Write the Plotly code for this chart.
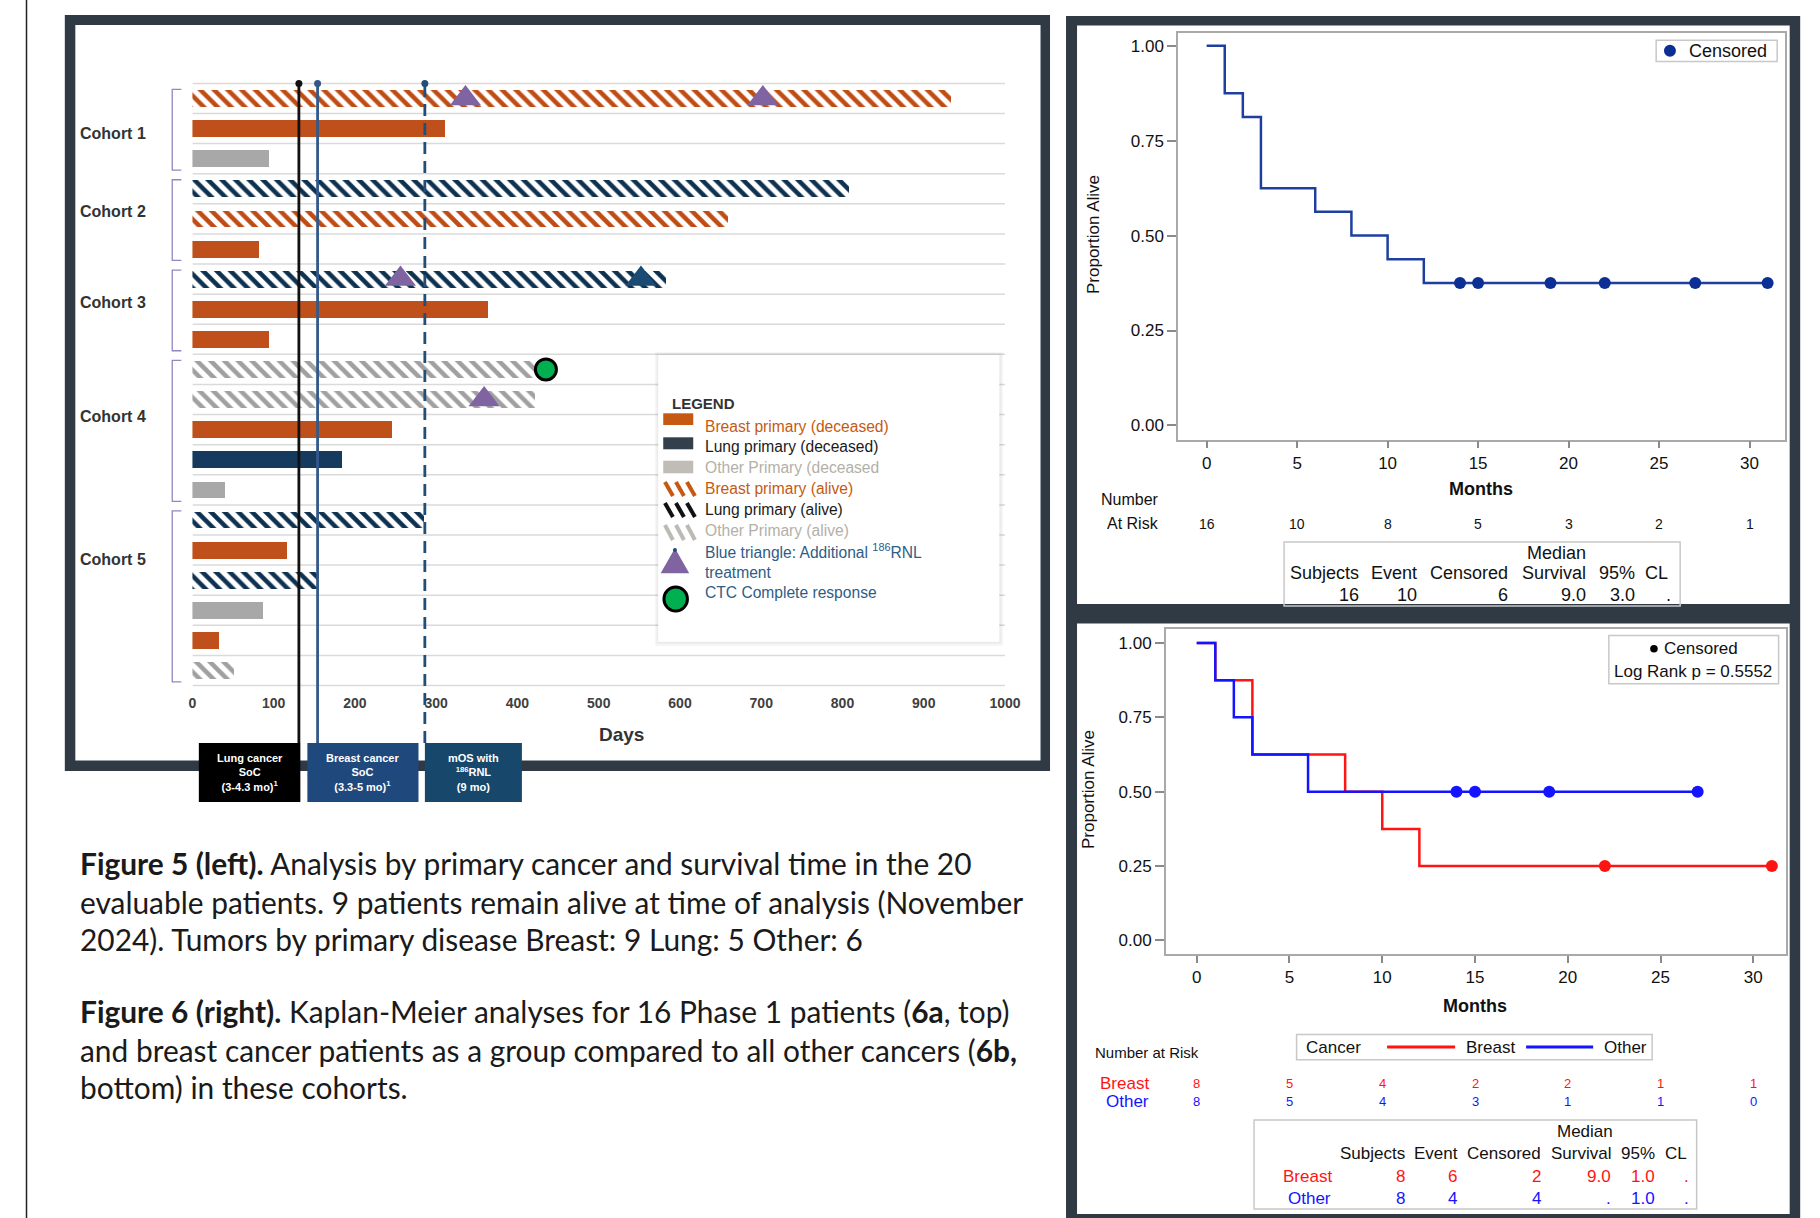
import plotly.graph_objects as go

W, H = 1820, 1218
SX, OX = 0.9888, 4.2   # compensation for the horizontal rendering transform observed
def X(px): return ((px - OX) / SX) / W
def Y(py): return 1 - py / H

SANS = "Liberation Sans, Arial, sans-serif"
CAP = "Lato, Calibri, sans-serif"

# ---------------- Figure 5 data ----------------
cohort_labels = ["Cohort 1", "Cohort 2", "Cohort 3", "Cohort 4", "Cohort 5"]
row_cohort = [1, 1, 1, 2, 2, 2, 3, 3, 3, 4, 4, 4, 4, 4, 5, 5, 5, 5, 5, 5]
row_primary = ["Breast", "Breast", "Other", "Lung", "Breast", "Breast", "Lung", "Breast", "Breast",
               "Other", "Other", "Breast", "Lung", "Other", "Lung", "Breast", "Lung", "Other", "Breast", "Other"]
row_status = ["alive", "deceased", "deceased", "alive", "alive", "deceased", "alive", "deceased", "deceased",
              "alive", "alive", "deceased", "deceased", "deceased", "alive", "deceased", "alive", "deceased",
              "deceased", "alive"]
row_days = [934, 311, 95, 808, 660, 82, 583, 364, 95, 423, 422, 246, 185, 40, 285, 117, 154, 87, 33, 52]
rnl_rows = [0, 0, 6, 10]
rnl_days = [336, 702, 256, 359]
rnl2_rows = [6]
rnl2_days = [552]
ctc_rows = [9]
ctc_days = [435]
ref_days = [131, 154, 286]
ref_box_text = ["Lung cancer<br>SoC<br>(3-4.3 mo)<sup>1</sup>",
                "Breast cancer<br>SoC<br>(3.3-5 mo)<sup>1</sup>",
                "mOS with<br><sup>186</sup>RNL<br>(9 mo)"]
day_ticks = [0, 100, 200, 300, 400, 500, 600, 700, 800, 900, 1000]

# ---------------- Figure 6a data ----------------
month_ticks = [0, 5, 10, 15, 20, 25, 30]
km_a_time = [0, 1, 2, 3, 6, 8, 10, 12, 31]
km_a_surv = [1.0, 0.875, 0.8125, 0.625, 0.5625, 0.5, 0.4375, 0.375, 0.375]
km_a_cens_time = [14, 15, 19, 22, 27, 31]
km_a_cens_surv = [0.375, 0.375, 0.375, 0.375, 0.375, 0.375]
km_a_risk = [16, 10, 8, 5, 3, 2, 1]
stat_headers = ["Subjects", "Event", "Censored", "Survival", "95%", "CL"]
km_a_stats = ["16", "10", "6", "9.0", "3.0", "."]

# ---------------- Figure 6b data ----------------
km_b_breast_time = [0, 1, 3, 8, 10, 12, 31]
km_b_breast_surv = [1.0, 0.875, 0.625, 0.5, 0.375, 0.25, 0.25]
km_b_breast_cens_time = [22, 31]
km_b_breast_cens_surv = [0.25, 0.25]
km_b_other_time = [0, 1, 2, 3, 6, 27]
km_b_other_surv = [1.0, 0.875, 0.75, 0.625, 0.5, 0.5]
km_b_other_cens_time = [14, 15, 19, 27]
km_b_other_cens_surv = [0.5, 0.5, 0.5, 0.5]
km_b_breast_risk = [8, 5, 4, 2, 2, 1, 1]
km_b_other_risk = [8, 5, 4, 3, 1, 1, 0]
km_b_breast_stats = ["8", "6", "2", "9.0", "1.0", "."]
km_b_other_stats = ["8", "4", "4", ".", "1.0", "."]

ORANGE = "#c0501b"
NAVY = "#163a5e"
GRAY = "#a8a8a8"
RED = "#ff1414"
BLUE = "#1414ff"
KMBLUE = "#1e3fa0"

fig = go.Figure()

# ---- bars ----
hatch = dict(shape="\\", bgcolor="white", size=9.7, solidity=0.47, fgopacity=1, fillmode="replace")
styles = {
    ("Breast", "deceased"): dict(color=ORANGE),
    ("Lung", "deceased"): dict(color=NAVY),
    ("Other", "deceased"): dict(color=GRAY),
    ("Breast", "alive"): dict(color="#c04c14", pattern=dict(fgcolor="#c04c14", **hatch)),
    ("Lung", "alive"): dict(color="#0e3150", pattern=dict(fgcolor="#0e3150", **hatch)),
    ("Other", "alive"): dict(color="#a0a0a0", pattern=dict(fgcolor="#a0a0a0", **hatch)),
}
for (p, s), mk in styles.items():
    idx = [i for i in range(len(row_days)) if row_primary[i] == p and row_status[i] == s]
    fig.add_trace(go.Bar(x=[row_days[i] for i in idx], y=idx, orientation="h", width=0.56,
                         marker=dict(line=dict(width=0), **mk), xaxis="x", yaxis="y",
                         showlegend=False, hoverinfo="skip"))

fig.add_trace(go.Scatter(x=rnl_days, y=rnl_rows, mode="markers", xaxis="x", yaxis="y",
                         marker=dict(symbol="triangle-up", size=27, color="#8064a2"),
                         showlegend=False, hoverinfo="skip", cliponaxis=False))
fig.add_trace(go.Scatter(x=rnl2_days, y=rnl2_rows, mode="markers", xaxis="x", yaxis="y",
                         marker=dict(symbol="triangle-up", size=27, color="#1b4a72"),
                         showlegend=False, hoverinfo="skip", cliponaxis=False))
fig.add_trace(go.Scatter(x=ctc_days, y=ctc_rows, mode="markers", xaxis="x", yaxis="y",
                         marker=dict(symbol="circle", size=21, color="#00b050", line=dict(color="black", width=3)),
                         showlegend=False, hoverinfo="skip", cliponaxis=False))
ref_colors = ["#111111", "#33598a", "#1f4e79"]
fig.add_trace(go.Scatter(x=ref_days, y=[-0.5] * 3, mode="markers", xaxis="x", yaxis="y",
                         marker=dict(size=7, color=ref_colors), showlegend=False,
                         hoverinfo="skip", cliponaxis=False))

# ---- KM 6a ----
fig.add_trace(go.Scatter(x=km_a_time, y=km_a_surv, mode="lines", line=dict(shape="hv", color=KMBLUE, width=2.5),
                         xaxis="x2", yaxis="y2", showlegend=False, hoverinfo="skip"))
fig.add_trace(go.Scatter(x=km_a_cens_time, y=km_a_cens_surv, mode="markers",
                         marker=dict(size=12, color="#0b2f94"), xaxis="x2", yaxis="y2",
                         showlegend=False, hoverinfo="skip", cliponaxis=False))
# ---- KM 6b ----
fig.add_trace(go.Scatter(x=km_b_breast_time, y=km_b_breast_surv, mode="lines",
                         line=dict(shape="hv", color=RED, width=2.5),
                         xaxis="x3", yaxis="y3", showlegend=False, hoverinfo="skip"))
fig.add_trace(go.Scatter(x=km_b_other_time, y=km_b_other_surv, mode="lines",
                         line=dict(shape="hv", color=BLUE, width=2.5),
                         xaxis="x3", yaxis="y3", showlegend=False, hoverinfo="skip"))
fig.add_trace(go.Scatter(x=km_b_breast_cens_time, y=km_b_breast_cens_surv, mode="markers",
                         marker=dict(size=12, color=RED), xaxis="x3", yaxis="y3",
                         showlegend=False, hoverinfo="skip", cliponaxis=False))
fig.add_trace(go.Scatter(x=km_b_other_cens_time, y=km_b_other_cens_surv, mode="markers",
                         marker=dict(size=12, color=BLUE), xaxis="x3", yaxis="y3",
                         showlegend=False, hoverinfo="skip", cliponaxis=False))

shapes = []
ann = []

def rect(x0, y0, x1, y1, fill=None, line=None, lw=0, layer="below"):
    shapes.append(dict(type="rect", xref="paper", yref="paper", x0=X(x0), x1=X(x1), y0=Y(y1), y1=Y(y0),
                       fillcolor=fill if fill else "rgba(0,0,0,0)",
                       line=dict(color=line if line else "rgba(0,0,0,0)", width=lw), layer=layer))

def pline(x0, y0, x1, y1, color, w, layer="below", dash=None):
    shapes.append(dict(type="line", xref="paper", yref="paper", x0=X(x0), x1=X(x1), y0=Y(y0), y1=Y(y1),
                       line=dict(color=color, width=w, dash=dash) if dash else dict(color=color, width=w),
                       layer=layer))

def txt(x, y, s, size, color="#111", anchor="left", family=SANS, xref="paper", angle=0):
    ann.append(dict(xref=xref, yref="paper", x=X(x) if xref == "paper" else x, y=Y(y), text=s,
                    showarrow=False, xanchor=anchor, yanchor="middle", textangle=angle,
                    font=dict(family=family, size=size, color=color)))

FRAME = "#2f3a45"
# left margin line
pline(26.7, 0, 26.7, H, "#222", 1.5)
# left frame
rect(65, 15, 1050, 771, fill=FRAME)
rect(75.5, 25, 1040.5, 760.5, fill="white")
# right frame
rect(1066, 16, 1800, 1218, fill=FRAME)
rect(1077, 25.5, 1789.5, 604, fill="white")
rect(1077, 623.6, 1789.5, 1214, fill="white")

# gridlines of bar chart
for i in range(len(row_days) + 1):
    shapes.append(dict(type="line", xref="x", yref="y", x0=0, x1=1000, y0=i - 0.5, y1=i - 0.5,
                       line=dict(color="#dadada", width=1.5), layer="below"))

# cohort brackets & labels
label_pos = [1.18, 3.77, 6.78, 10.57, 15.3]
for k, name in enumerate(cohort_labels):
    rows = [i for i in range(len(row_cohort)) if row_cohort[i] == k + 1]
    top, bot = min(rows) - 0.3, max(rows) + 0.38
    bx0, bx1 = X(172.4), X(181.5)
    shapes.append(dict(type="path", xref="paper", yref="y",
                       path=f"M {bx1},{top} L {bx0},{top} L {bx0},{bot} L {bx1},{bot}",
                       line=dict(color="#9486c0", width=1.3), layer="below"))
    ann.append(dict(xref="paper", yref="y", x=X(78), y=label_pos[k], text=f"<b>{name}</b>", showarrow=False,
                    xanchor="left", yanchor="middle", font=dict(family=SANS, size=16, color="#333")))

# reference lines and boxes
ref_dash = [None, None, "12px,7px"]
box_x = [(199, 300.5, "#000000"), (307.5, 418.6, "#1f497d"), (425, 522, "#17476b")]
for d, c, ds in zip(ref_days, ref_colors, ref_dash):
    ln = dict(color=c, width=2.8)
    if ds:
        ln["dash"] = ds
    shapes.append(dict(type="line", xref="x", yref="paper", x0=d, x1=d, y0=Y(743), y1=Y(83),
                       line=ln, layer="above"))
for (x0, x1, c), t in zip(box_x, ref_box_text):
    rect(x0, 743, x1, 802, fill=c, layer="above")
    ann.append(dict(xref="paper", yref="paper", x=X((x0 + x1) / 2), y=Y(772), text=f"<b>{t}</b>",
                    showarrow=False, xanchor="center", yanchor="middle",
                    font=dict(family=SANS, size=11, color="white")))

txt(622, 734, "<b>Days</b>", 19, "#333", anchor="center")

# legend of figure 5
rect(655, 352, 1003, 646, fill="rgba(0,0,0,0.035)", layer="above")
rect(656.5, 353.5, 1001.5, 644, fill="rgba(0,0,0,0.04)", layer="above")
rect(658.3, 355, 999.3, 641.7, fill="white", layer="above")
txt(670, 403.3, "<b>LEGEND</b>", 15, "#333")
solid_sw = [(413.3, 425, "#c65911"), (437.3, 449.3, "#333f4a"), (460.7, 473.3, "#bfbdb5")]
for y0, y1, c in solid_sw:
    rect(663.3, y0, 693.3, y1, fill=c, layer="above")
hatch_sw = [(482, 496, "#c65911"), (503, 517, "#111111"), (525, 540, "#bcbab2")]
for y0, y1, c in hatch_sw:
    for k in range(3):
        xs = 665 + 11 * k
        pline(xs, y0, xs + 8, y1, c, 4, layer="above")
shapes.append(dict(type="path", xref="paper", yref="paper",
                   path=f"M {X(660.7)},{Y(573.3)} L {X(689.3)},{Y(573.3)} L {X(675)},{Y(548.3)} Z",
                   fillcolor="#8064a2", line=dict(width=0), layer="above"))
shapes.append(dict(type="circle", xref="paper", yref="paper", x0=X(673), x1=X(677), y0=Y(552), y1=Y(548),
                   fillcolor="#1f4e79", line=dict(width=0), layer="above"))
shapes.append(dict(type="circle", xref="paper", yref="paper", x0=X(664), x1=X(687.5), y0=Y(611), y1=Y(587),
                   fillcolor="#00b050", line=dict(color="black", width=3), layer="above"))
leg_items = [("Breast primary (deceased)", 426, "#c55a11"),
             ("Lung primary (deceased)", 446.7, "#1a1a1a"),
             ("Other Primary (deceased", 467.7, "#b3b0a8"),
             ("Breast primary (alive)", 488.3, "#c55a11"),
             ("Lung primary (alive)", 509.3, "#1a1a1a"),
             ("Other Primary (alive)", 530.7, "#b3b0a8"),
             ("Blue triangle: Additional <sup>186</sup>RNL", 551, "#2e5d86"),
             ("treatment", 572.3, "#2e5d86"),
             ("CTC Complete response", 592.7, "#2e5d86")]
for s, y, c in leg_items:
    txt(703.3, y, s, 15.6, c)

# ---------- KM 6a annotations ----------
txt(1481, 488.7, "<b>Months</b>", 18, "#111", anchor="center")
txt(1093, 235, "Proportion Alive", 17, "#111", anchor="center", angle=-90)
rect(1656, 40.2, 1777, 61.5, line="#c8c8c8", lw=1.5, layer="above")
shapes.append(dict(type="circle", xref="paper", yref="paper", x0=X(1663.8), x1=X(1675.8), y0=Y(56.7), y1=Y(44.7),
                   fillcolor="#0b2f94", line=dict(width=0), layer="above"))
txt(1687, 50.7, "Censored", 18, "#111")
txt(1161, 500, "Number", 16, "#111", anchor="right")
txt(1161, 524, "At Risk", 16, "#111", anchor="right")
for m, r in zip(month_ticks, km_a_risk):
    ann.append(dict(xref="x2", yref="paper", x=m, y=Y(524), text=str(r), showarrow=False,
                    xanchor="center", yanchor="middle", font=dict(family=SANS, size=14, color="#111")))
rect(1284, 542, 1680, 606, line="#c8c8c8", lw=1.5, layer="above")
txt(1556, 552.6, "Median", 18, "#111", anchor="center")
a_cols = [1361, 1418.5, 1510, 1588, 1637, 1670]
for xr, h in zip(a_cols, stat_headers):
    txt(xr, 573, h, 18, "#111", anchor="right")
a_val_cols = [1361, 1418.5, 1510, 1588, 1637, 1673]
for xr, v in zip(a_val_cols, km_a_stats):
    txt(xr, 594.5, v, 18, "#111", anchor="right")

# ---------- KM 6b annotations ----------
txt(1474.5, 1005.5, "<b>Months</b>", 18, "#111", anchor="center")
txt(1088, 790, "Proportion Alive", 17, "#111", anchor="center", angle=-90)
rect(1608.7, 635.6, 1778.4, 683.7, line="#c8c8c8", lw=1.5, layer="above")
shapes.append(dict(type="circle", xref="paper", yref="paper", x0=X(1650), x1=X(1657.6), y0=Y(652.6), y1=Y(645),
                   fillcolor="#000", line=dict(width=0), layer="above"))
txt(1662, 648.8, "Censored", 17, "#111")
txt(1693, 671.3, "Log Rank p = 0.5552", 17, "#111", anchor="center")
txt(1093, 1052.8, "Number at Risk", 15, "#111")
rect(1296.5, 1034.6, 1652, 1059.8, line="#c8c8c8", lw=1.5, layer="above")
txt(1304, 1047, "Cancer", 17, "#111")
pline(1387, 1047, 1455, 1047, RED, 3, layer="above")
txt(1464, 1047, "Breast", 17, "#111")
pline(1526, 1047, 1593, 1047, BLUE, 3, layer="above")
txt(1602, 1047, "Other", 17, "#111")
txt(1151, 1083, "Breast", 17, RED, anchor="right")
txt(1151, 1101.7, "Other", 17, BLUE, anchor="right")
for m, r1, r2 in zip(month_ticks, km_b_breast_risk, km_b_other_risk):
    ann.append(dict(xref="x3", yref="paper", x=m, y=Y(1083), text=str(r1), showarrow=False,
                    xanchor="center", yanchor="middle", font=dict(family=SANS, size=13, color=RED)))
    ann.append(dict(xref="x3", yref="paper", x=m, y=Y(1101.7), text=str(r2), showarrow=False,
                    xanchor="center", yanchor="middle", font=dict(family=SANS, size=13, color=BLUE)))
rect(1254, 1120, 1696.5, 1209, line="#c8c8c8", lw=1.5, layer="above")
txt(1584.5, 1131.5, "Median", 17, "#111", anchor="center")
b_cols = [1407, 1460, 1542.8, 1612.6, 1657, 1688.7]
for xr, h in zip(b_cols, stat_headers):
    txt(xr, 1153.6, h, 17, "#111", anchor="right")
b_val_cols = [1407, 1459, 1542.8, 1612.6, 1657, 1691]
txt(1334, 1176, "Breast", 17, RED, anchor="right")
txt(1333, 1198.6, "Other", 17, BLUE, anchor="right")
for xr, v1, v2 in zip(b_val_cols, km_b_breast_stats, km_b_other_stats):
    txt(xr, 1176, v1, 17, RED, anchor="right")
    txt(xr, 1198.6, v2, 17, BLUE, anchor="right")

# ---------- captions ----------
caption_lines = [
    ("<b>Figure 5 (left).</b> Analysis by primary cancer and survival time in the 20", 862.5),
    ("evaluable patients. 9 patients remain alive at time of analysis (November", 901.5),
    ("2024). Tumors by primary disease Breast: 9 Lung: 5 Other: 6", 938.8),
    ("<b>Figure 6 (right).</b> Kaplan-Meier analyses for 16 Phase 1 patients (<b>6a</b>, top)", 1010.7),
    ("and breast cancer patients as a group compared to all other cancers (<b>6b,</b>", 1049.5),
    ("bottom) in these cohorts.", 1086.5),
]
for s, y in caption_lines:
    txt(78, y, s, 29.9, "#1a1a1a", family=CAP)

km_axis = dict(showgrid=False, zeroline=False, showline=True, mirror=True, linecolor="#a9a9a9",
               linewidth=1.5, ticks="outside", tickcolor="#8a8a8a", tickwidth=1.5,
               tickfont=dict(family=SANS, size=17, color="#111"), fixedrange=True)
yt = [0, 0.25, 0.5, 0.75, 1.0]
ytt = ["0.00", "0.25", "0.50", "0.75", "1.00"]

fig.update_layout(
    width=W, height=H, margin=dict(l=0, r=0, t=0, b=0),
    paper_bgcolor="white", plot_bgcolor="rgba(0,0,0,0)",
    showlegend=False, bargap=0,
    xaxis=dict(domain=[X(192.6), X(1005)], range=[0, 1000], tickvals=day_ticks,
               ticktext=[f"<b>{v}</b>" for v in day_ticks], showgrid=False, zeroline=False,
               showline=False, ticks="outside", ticklen=3, tickcolor="rgba(0,0,0,0)",
               tickfont=dict(family=SANS, size=14, color="#404040"), anchor="y", fixedrange=True),
    yaxis=dict(domain=[Y(687.05), Y(81.9)], range=[19.55, -0.55], visible=False, anchor="x",
               fixedrange=True),
    xaxis2=dict(domain=[X(1178), X(1785)], range=[-1.58, 31.97], tickvals=month_ticks, ticklen=7,
                anchor="y2", **km_axis),
    yaxis2=dict(domain=[Y(439.5), Y(32.5)], range=[-0.0369, 1.0348], tickvals=yt, ticktext=ytt,
                ticklen=9, anchor="x2", **km_axis),
    xaxis3=dict(domain=[X(1165.7), X(1785.6)], range=[-1.67, 31.75], tickvals=month_ticks, ticklen=7,
                anchor="y3", **km_axis),
    yaxis3=dict(domain=[Y(954.3), Y(628.6)], range=[-0.0467, 1.0484], tickvals=yt, ticktext=ytt,
                ticklen=9, anchor="x3", **km_axis),
    shapes=shapes, annotations=ann,
)

fig.write_html("out.html", config=dict(displayModeBar=False),
               post_script="document.body.style.margin='0px';document.body.style.overflow='hidden';")
